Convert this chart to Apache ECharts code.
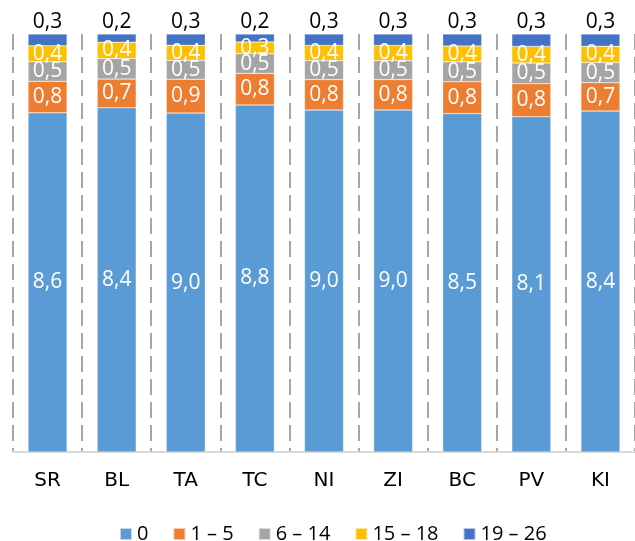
<!DOCTYPE html>
<html><head><meta charset="utf-8">
<script src="https://cdn.jsdelivr.net/npm/echarts@6/dist/echarts.min.js"></script>
<style>html,body{margin:0;padding:0;background:#fff}#c{width:635px;height:541px}</style>
</head><body><div id="c"></div>
<script>
var categories = ['SR','BL','TA','TC','NI','ZI','BC','PV','KI'];
var seriesNames = ['0','1 – 5','6 – 14','15 – 18','19 – 26'];
var s0 = [8.6,8.4,9.0,8.8,9.0,9.0,8.5,8.1,8.4];
var s1 = [0.8,0.7,0.9,0.8,0.8,0.8,0.8,0.8,0.7];
var s2 = [0.5,0.5,0.5,0.5,0.5,0.5,0.5,0.5,0.5];
var s3 = [0.4,0.4,0.4,0.3,0.4,0.4,0.4,0.4,0.4];
var s4 = [0.3,0.2,0.3,0.2,0.3,0.3,0.3,0.3,0.3];
var colors = ['#5B9BD5','#ED7D31','#A5A5A5','#FFC000','#4472C4'];

var raw = [s0,s1,s2,s3,s4];
var totals = categories.map(function(_,i){ return raw.reduce(function(a,s){return a+s[i];},0); });
var fmt = function(v){ return v.toFixed(1).replace('.', ','); };
var labelFont = 'Open Sans';

var series = raw.map(function(arr, k){
  var last = k === raw.length - 1;
  return {
    name: seriesNames[k], type: 'bar', stack: 'total', barWidth: 39,
    data: arr.map(function(v,i){ return v / totals[i] * 100; }),
    itemStyle: { color: colors[k], borderColor: 'rgba(255,255,255,0.6)', borderWidth: 0.5 },
    label: {
      show: true,
      position: last ? 'top' : 'inside',
      distance: 1,
      color: last ? '#000' : '#fff',
      fontFamily: labelFont, fontSize: 21,
      formatter: function(p){ return fmt(arr[p.dataIndex]); }
    },
    emphasis: { disabled: true }
  };
});

var chart = echarts.init(document.getElementById('c'));
chart.setOption({
  animation: false,
  color: colors,
  grid: { left: 13, width: 631, top: 34, bottom: 89, containLabel: false },
  xAxis: {
    type: 'category', data: categories,
    axisLine: { lineStyle: { color: '#d9d9d9', width: 2 } },
    axisTick: { show: false },
    axisLabel: { color: '#000', fontFamily: 'DejaVu Sans', fontSize: 20, margin: 19 },
    splitLine: { show: true, interval: 0, lineStyle: { color: '#a6a6a6', width: 2, type: [16,7] } }
  },
  yAxis: { type: 'value', min: 0, max: 100, show: false, splitLine: { show: false } },
  legend: {
    bottom: -8, left: 114, icon: 'rect', itemWidth: 12, itemHeight: 12, itemGap: 24,
    textStyle: { fontFamily: labelFont, fontSize: 20, color: '#000' },
    data: seriesNames
  },
  series: series
});
</script></body></html>
